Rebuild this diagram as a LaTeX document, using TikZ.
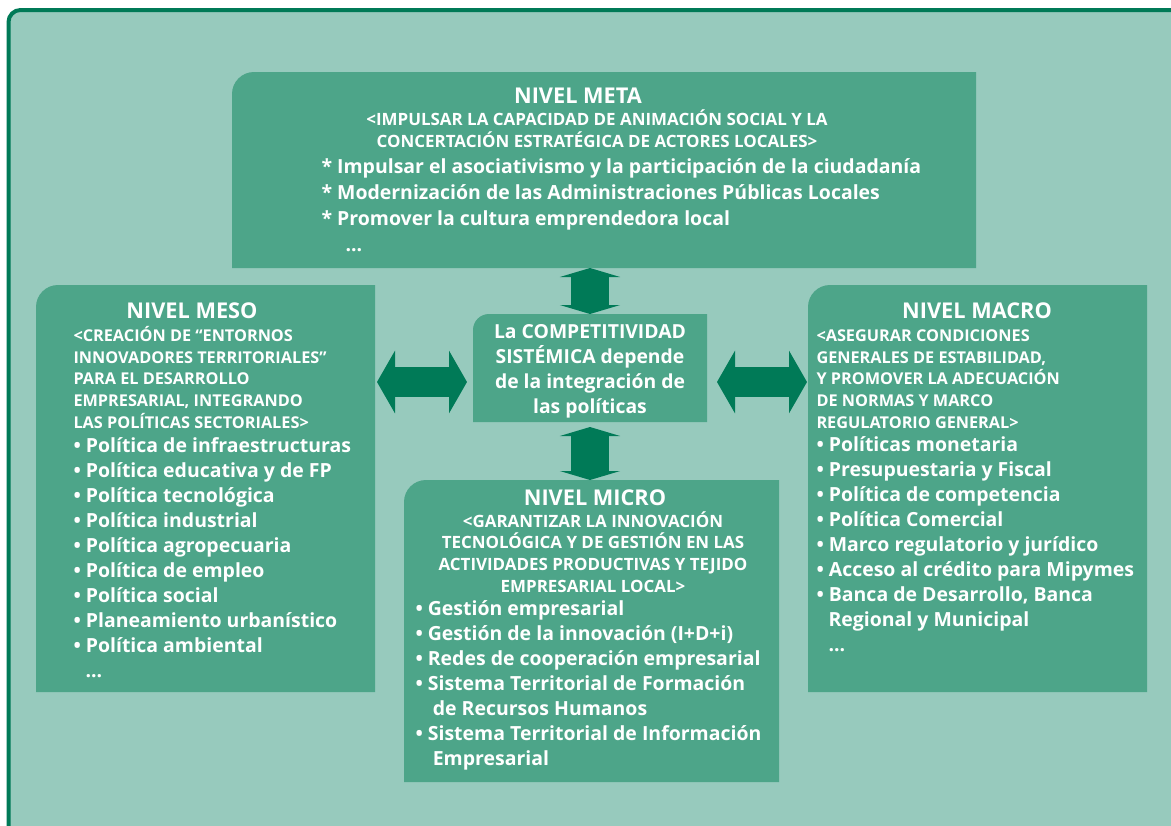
\documentclass[tikz,border=0pt]{standalone}
\usepackage{fontspec}
\setmainfont{Open Sans}
\usetikzlibrary{arrows.meta}

\definecolor{fondo}{RGB}{151,202,189}
\definecolor{verdecaja}{RGB}{77,165,137}
\definecolor{verdeosc}{RGB}{0,122,87}

\tikzset{every picture/.style={line width=0.75pt},
  caja/.style={inner sep=0pt, outer sep=0pt},
  relleno/.style={fill=verdecaja},
  titulo/.style={text=white, inner sep=0pt, anchor=base, font=\bfseries\fontsize{16.3}{18}\selectfont},
  lema/.style={text=white, inner sep=0pt, font=\bfseries\fontsize{12.2}{16.2}\selectfont},
  lemaxl/.style={lema, anchor=base, align=center, font=\bfseries\fontsize{12.7}{16.2}\selectfont},
  lista/.style={text=white, inner sep=0pt, anchor=base west, align=left, font=\bfseries\fontsize{14.6}{18.7}\selectfont},
  flechav/.style={draw=verdeosc, line width=28.5pt, {Triangle[length=6.75pt,width=45pt]}-{Triangle[length=6.75pt,width=45pt]}},
  flechah/.style={draw=verdeosc, line width=22.5pt, {Triangle[length=13.5pt,width=46.5pt]}-{Triangle[length=13.5pt,width=46.5pt]}}
}

\begin{document}
\begin{tikzpicture}[x=0.75pt,y=0.75pt,yscale=-1,xscale=1]
\useasboundingbox (0,0) rectangle (1171,825);
\clip (0,0) rectangle (1171,825);

%Frame
\draw [draw=verdeosc, fill=fondo, line width=3pt, rounded corners=9pt] (8.5,10) rectangle (1200,860);

%Shapes: boxes
\node [caja, minimum width=558pt, minimum height=147pt] (meta) at (604,170) {};
\node [caja, minimum width=254.25pt, minimum height=305.25pt] (meso) at (205.5,488.5) {};
\node [caja, minimum width=281.25pt, minimum height=226.5pt] (micro) at (591.5,631) {};
\node [caja, minimum width=254.25pt, minimum height=305.25pt] (macro) at (977.5,488.5) {};
\node [caja, minimum width=175.5pt, minimum height=81pt] (centro) at (590,368) {};

\foreach \c/\r in {meta/16.5pt, meso/16.5pt, micro/16.5pt, macro/16.5pt, centro/12pt}
  \fill [relleno] (\c.south west) [rounded corners=\r] -- (\c.north west) [sharp corners] -- (\c.north east) -- (\c.south east) -- cycle;

%Double arrows
\coordinate (ejeh) at (590,382);
\draw [flechav] (centro.north) -- (centro.north |- meta.south);
\draw [flechav, shorten <=3.75pt] (centro.south) -- (centro.south |- micro.north);
\draw [flechah, shorten <=1.5pt, shorten >=4.5pt] (meso.east |- ejeh) -- (centro.west |- ejeh);
\draw [flechah, shorten <=7.5pt, shorten >=0.75pt] (centro.east |- ejeh) -- (macro.west |- ejeh);

% Text Node
\node [titulo] (metaT) at (578,103) {NIVEL META};
% Text Node
\node [lemaxl] (metaL) at (597,147) {<IMPULSAR LA CAPACIDAD DE ANIMACIÓN SOCIAL Y LA\\CONCERTACIÓN ESTRATÉGICA DE ACTORES LOCALES>};
% Text Node
\node [lista, font=\bfseries\fontsize{14.6}{19.5}\selectfont] (metaI) at (321,251) {* Impulsar el asociativismo y la participación de la ciudadanía\\* Modernización de las Administraciones Públicas Locales\\* Promover la cultura emprendedora local\\\hspace*{18pt}...};

% Text Node
\node [titulo] (mesoT) at (192,318) {NIVEL MESO};
% Text Node
\node [lema, anchor=base west, align=left] (mesoL) at (73,428) {<CREACIÓN DE “ENTORNOS\\INNOVADORES TERRITORIALES”\\PARA EL DESARROLLO\\EMPRESARIAL, INTEGRANDO\\LAS POLÍTICAS SECTORIALES>};
% Text Node
\node [lista] (mesoI) at (73,677) {• Política de infraestructuras\\• Política educativa y de FP\\• Política tecnológica\\• Política industrial\\• Política agropecuaria\\• Política de empleo\\• Política social\\• Planeamiento urbanístico\\• Política ambiental\\\hspace*{9pt}...};

% Text Node
\node [titulo] (microT) at (595,505) {NIVEL MICRO};
% Text Node
\node [lemaxl] (microL) at (593,592) {<GARANTIZAR LA INNOVACIÓN\\TECNOLÓGICA Y DE GESTIÓN EN LAS\\ACTIVIDADES PRODUCTIVAS Y TEJIDO\\EMPRESARIAL LOCAL>};
% Text Node
\node [lista] (microI) at (415,765) {• Gestión empresarial\\• Gestión de la innovación (I+D+i)\\• Redes de cooperación empresarial\\• Sistema Territorial de Formación\\\hspace*{13pt}de Recursos Humanos\\• Sistema Territorial de Información\\\hspace*{13pt}Empresarial};

% Text Node
\node [titulo] (macroT) at (977,318) {NIVEL MACRO};
% Text Node
\node [lema, anchor=base west, align=left] (macroL) at (816,428) {<ASEGURAR CONDICIONES\\GENERALES DE ESTABILIDAD,\\Y PROMOVER LA ADECUACIÓN\\DE NORMAS Y MARCO\\REGULATORIO GENERAL>};
% Text Node
\node [lista] (macroI) at (816,651) {• Políticas monetaria\\• Presupuestaria y Fiscal\\• Política de competencia\\• Política Comercial\\• Marco regulatorio y jurídico\\• Acceso al crédito para Mipymes\\• Banca de Desarrollo, Banca\\\hspace*{9pt}Regional y Municipal\\\hspace*{9pt}...};

% Text Node
\node [lista, anchor=base, align=center, font=\bfseries\fontsize{14.5}{18.75}\selectfont] (centroT) at (590,413) {La COMPETITIVIDAD\\SISTÉMICA depende\\de la integración de\\las políticas};
\end{tikzpicture}
\end{document}
